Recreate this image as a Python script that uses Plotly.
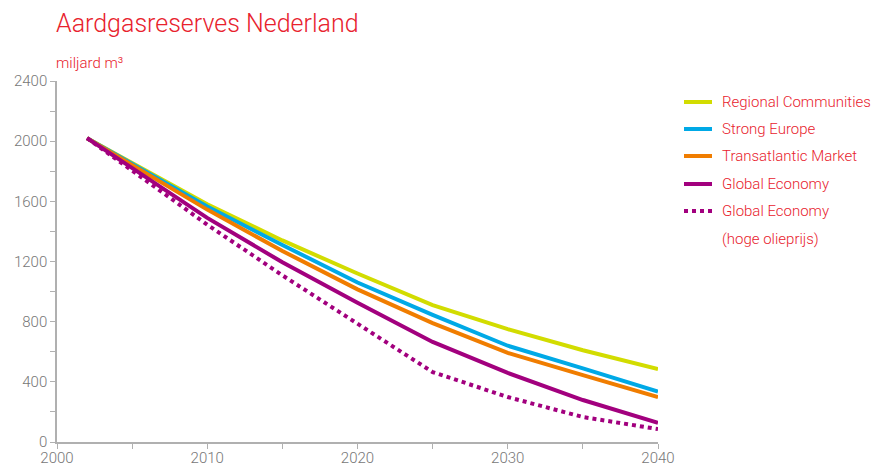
import plotly.graph_objects as go

years = [2002, 2010, 2015, 2020, 2025, 2030, 2035, 2040]
regional_communities = [2020, 1580, 1340, 1120, 910, 750, 610, 485]
strong_europe = [2020, 1565, 1310, 1060, 845, 640, 490, 335]
transatlantic_market = [2020, 1545, 1270, 1015, 790, 592, 445, 298]
global_economy = [2020, 1490, 1195, 925, 665, 459, 279, 128]
global_economy_high_oil = [2020, 1445, 1108, 785, 465, 299, 166, 86]

series_names = ["Regional Communities", "Strong Europe", "Transatlantic Market",
                "Global Economy", "Global Economy"]
series_subnames = ["", "", "", "", "(hoge olieprijs)"]
series_values = [regional_communities, strong_europe, transatlantic_market,
                 global_economy, global_economy_high_oil]
colors = ["#d2dc00", "#00a9e6", "#f07d00", "#a2007e", "#a2007e"]
dashes = ["solid", "solid", "solid", "solid", "dot"]

RED = "#e8222d"
GRAY = "#777777"
FONT = "Roboto"
W = 300

fig = go.Figure()
for name, sub, vals, c, d in zip(series_names, series_subnames, series_values, colors, dashes):
    fig.add_trace(go.Scatter(x=years, y=vals, mode="lines", name=(name + " " + sub).strip(),
                             line=dict(color=c, width=4, dash=d),
                             showlegend=False, hoverinfo="skip"))

# manual legend
leg_y = [102, 129, 156, 184, 211]
for name, sub, c, d, yy in zip(series_names, series_subnames, colors, dashes, leg_y):
    py = (442 - yy) / 361
    fig.add_shape(type="line", xref="paper", yref="paper",
                  x0=(684 - 57) / 601, x1=(712 - 57) / 601, y0=py, y1=py,
                  line=dict(color=c, width=4, dash=d))
    fig.add_annotation(xref="paper", yref="paper", x=(720 - 57) / 601,
                       y=py, text=name, showarrow=False, xanchor="left",
                       yanchor="middle",
                       font=dict(family=FONT, size=15, color=RED, weight=W))
    if sub:
        fig.add_annotation(xref="paper", yref="paper", x=(720 - 57) / 601,
                           y=(442 - yy - 28) / 361, text=sub, showarrow=False,
                           xanchor="left", yanchor="middle",
                           font=dict(family=FONT, size=15, color=RED, weight=W))

fig.add_annotation(xref="paper", yref="paper", x=0, y=(442 - 24) / 361,
                   text="Aardgasreserves Nederland", showarrow=False,
                   xanchor="left", yanchor="middle", xshift=-3,
                   font=dict(family=FONT, size=25, color=RED, weight=W))
fig.add_annotation(xref="paper", yref="paper", x=0, y=(442 - 63) / 361,
                   text="miljard m³", showarrow=False,
                   xanchor="left", yanchor="middle", xshift=-3,
                   font=dict(family=FONT, size=15, color=RED, weight=W))

axis_common = dict(showgrid=False, zeroline=False, showline=True, automargin=False,
                   linecolor="#b0b0b0", linewidth=1.5, ticks="outside",
                   ticklen=5, tickcolor="#b0b0b0", tickwidth=1,
                   tickfont=dict(family=FONT, size=15, color=GRAY, weight=W))

fig.update_xaxes(range=[2000, 2040], tickvals=[2000, 2010, 2020, 2030, 2040],
                 ticklabelstandoff=-4,
                 minor=dict(tickvals=[2005, 2015, 2025, 2035], ticks="outside",
                            ticklen=5, tickcolor="#b0b0b0"),
                 **axis_common)
fig.update_yaxes(range=[0, 2400], tickvals=[0, 400, 800, 1200, 1600, 2000, 2400],
                 minor=dict(tickvals=[200, 600, 1000, 1400, 1800, 2200], ticks="outside",
                            ticklen=5, tickcolor="#b0b0b0"),
                 **axis_common)

fig.update_layout(width=881, height=466,
                  margin=dict(l=57, r=223, t=81, b=24),
                  paper_bgcolor="white", plot_bgcolor="white",
                  font=dict(family=FONT, weight=W), hovermode=False)

fig.write_html("out.html", config={"displayModeBar": False},
               post_script="document.body.style.margin='0';document.body.style.padding='0';")
